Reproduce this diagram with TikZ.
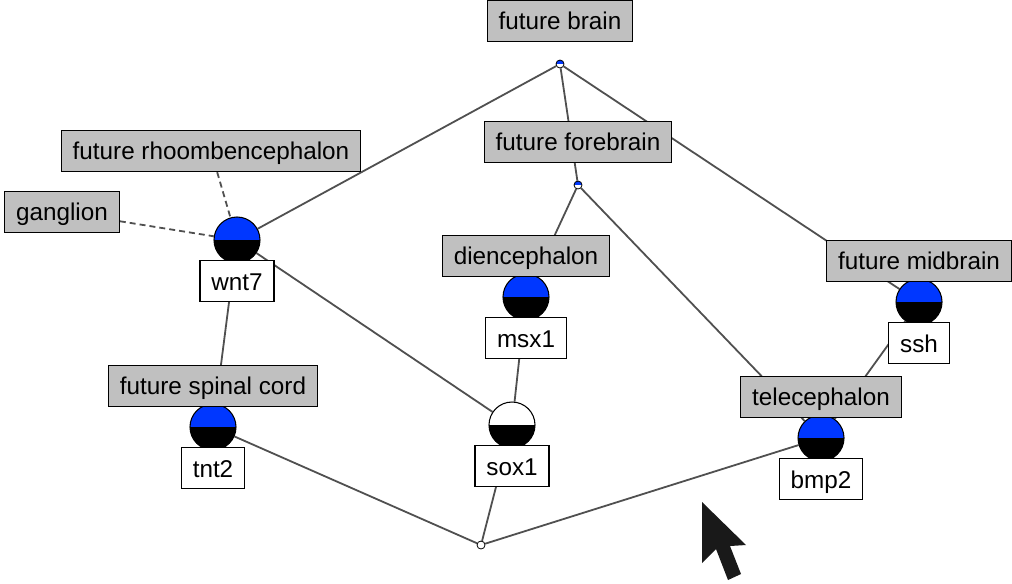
\documentclass[tikz,border=0pt]{standalone}
\usepackage{fontspec}
\setmainfont{Liberation Sans}
\usetikzlibrary{positioning,backgrounds}
\definecolor{cblue}{HTML}{0037FF}
\definecolor{boxgray}{HTML}{C0C0C0}
\definecolor{edgegray}{HTML}{505050}

\begin{document}
\begin{tikzpicture}[x=0.75pt,y=-0.75pt,font=\fontsize{18.2}{21}\selectfont,
  concept/.style={circle,draw=black,line width=0.8pt,minimum size=34.5pt,inner sep=0pt,
    path picture={\fill[cblue] (path picture bounding box.north west) rectangle (path picture bounding box.east);
                  \fill[black] (path picture bounding box.south west) rectangle (path picture bounding box.east);}},
  plainconcept/.style={concept,
    path picture={\fill[black] (path picture bounding box.south west) rectangle (path picture bounding box.east);}},
  topdot/.style={circle,draw=black,line width=0.6pt,minimum size=6pt,inner sep=0pt,fill=white,
    path picture={\fill[cblue] (path picture bounding box.north west) rectangle (path picture bounding box.east);}},
  dot/.style={circle,draw=black,line width=0.6pt,minimum size=6pt,inner sep=0pt,fill=white},
  attr/.style={draw=black,fill=boxgray,line width=0.9pt,text height=13pt,text depth=0pt,
    inner xsep=8.5pt,inner ysep=8.9pt},
  obj/.style={attr,fill=white},
  link/.style={edgegray,line width=1.35pt},
  dashlink/.style={link,dash pattern=on 4.5pt off 3pt}]
  \useasboundingbox (0,0) rectangle (1012,583);
  % concepts
  \node[topdot] (brain) at (560,64) {};
  \node[topdot] (fore) at (578,185) {};
  \node[concept] (wnt7) at (237,240) {};
  \node[concept] (msx1) at (526,297) {};
  \node[concept] (ssh) at (919,302) {};
  \node[concept] (tnt2) at (213,427) {};
  \node[plainconcept] (sox1) at (512,425) {};
  \node[concept] (bmp2) at (821,438) {};
  \node[dot] (bottom) at (481,545) {};
  % attribute labels
  \node[attr,above=13pt of brain] {future brain};
  \node[attr,above=13pt of fore] {future forebrain};
  \node[attr] (rhoomb) at (211,151) {future rhoombencephalon};
  \node[attr] (ganglion) at (62,212) {ganglion};
  \node[attr,above=-2.5pt of msx1] {diencephalon};
  \node[attr,above=-2.5pt of ssh] {future midbrain};
  \node[attr,above=-2.5pt of tnt2] {future spinal cord};
  \node[attr,above=-2.5pt of bmp2] {telecephalon};
  % object labels
  \node[obj,below=-2.5pt of wnt7] {wnt7};
  \node[obj,below=-2.5pt of msx1] {msx1};
  \node[obj,below=-2.5pt of ssh] {ssh};
  \node[obj,below=-2.5pt of tnt2] {tnt2};
  \node[obj,below=-2.5pt of sox1] {sox1};
  \node[obj,below=-2.5pt of bmp2] {bmp2};
  % lattice lines
  \begin{scope}[on background layer]
    \foreach \a/\b in {brain/wnt7,brain/fore,brain/ssh,fore/msx1,fore/bmp2,wnt7/tnt2,
                       wnt7/sox1,msx1/sox1,ssh/bmp2,tnt2/bottom,sox1/bottom,bmp2/bottom}
      \draw[link] (\a) -- (\b);
    \draw[dashlink] (rhoomb) -- (wnt7);
    \draw[dashlink] (ganglion) -- (wnt7);
  \end{scope}
  % pointer
  \fill[black!90] (702,502) -- (702,563) -- (716,549) -- (728,580) -- (741,574)
    -- (730,546) -- (746,545) -- cycle;
\end{tikzpicture}
\end{document}
